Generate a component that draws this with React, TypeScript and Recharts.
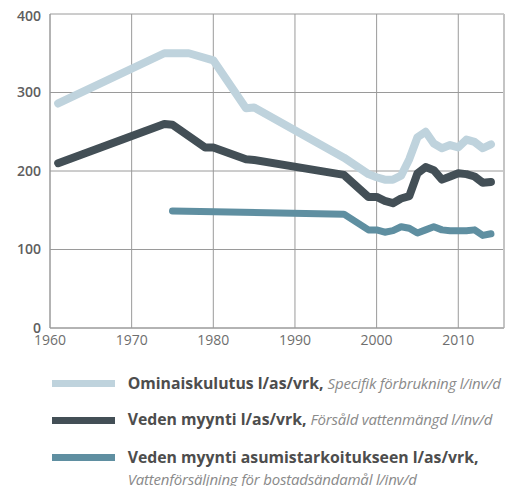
import React from "react";
import { LineChart, Line, XAxis, YAxis, CartesianGrid, ReferenceLine } from "recharts";

const xTicks = [1960, 1970, 1980, 1990, 2000, 2010];
const yTicks = [0, 100, 200, 300, 400];
const X_MIN = 1960;
const X_MAX = 2015.6;

const specificYears = [1961, 1974, 1977, 1980, 1984, 1985, 1996, 1999, 2000, 2001, 2002, 2003, 2004, 2005, 2006, 2007, 2008, 2009, 2010, 2011, 2012, 2013, 2014];
const specificValues = [286, 350, 350, 341, 280, 281, 217, 196, 192, 189, 189, 194, 215, 243, 250, 235, 229, 233, 230, 240, 237, 229, 234];

const soldYears = [1961, 1974, 1975, 1979, 1980, 1984, 1985, 1996, 1999, 2000, 2001, 2002, 2003, 2004, 2005, 2006, 2007, 2008, 2009, 2010, 2011, 2012, 2013, 2014];
const soldValues = [210, 260, 259, 230, 230, 215, 214, 195, 167, 167, 162, 159, 165, 168, 197, 205, 201, 189, 193, 197, 196, 193, 185, 186];

const housingYears = [1975, 1996, 1999, 2000, 2001, 2002, 2003, 2004, 2005, 2006, 2007, 2008, 2009, 2010, 2011, 2012, 2013, 2014];
const housingValues = [149, 145, 125, 125, 122, 124, 129, 127, 121, 125, 129, 125, 124, 124, 124, 125, 118, 120];

const COLORS = { specific: "#bfd3dd", sold: "#434f56", housing: "#5f8fa1" };

const toData = (years: number[], values: number[]) => years.map((year, i) => ({ year, v: values[i] }));
const specificData = toData(specificYears, specificValues);
const soldData = toData(soldYears, soldValues);
const housingData = toData(housingYears, housingValues);

const FONT = "'Open Sans', 'Noto Sans', sans-serif";

const legendItems = [
  { color: COLORS.specific, bold: "Ominaiskulutus l/as/vrk,", italic: "Specifik förbrukning l/inv/d", top: 372, wrap: false },
  { color: COLORS.sold, bold: "Veden myynti l/as/vrk,", italic: "Försåld vattenmängd l/inv/d", top: 408.5, wrap: false },
  { color: COLORS.housing, bold: "Veden myynti asumistarkoitukseen l/as/vrk,", italic: "Vattenförsäljning för bostadsändamål l/inv/d", top: 446, wrap: true },
];

export default function App() {
  return (
    <div style={{ position: "relative", width: 506, height: 478, fontFamily: FONT }}>
      <LineChart width={506} height={350} margin={{ top: 6, right: 10, bottom: 0, left: 0 }} style={{ overflow: "visible" }}>
        <CartesianGrid stroke="#9a9a9a" strokeWidth={1} />
        <XAxis
          dataKey="year"
          type="number"
          domain={[X_MIN, X_MAX]}
          ticks={xTicks}
          allowDuplicatedCategory={false}
          tickLine={false}
          tickSize={0}
          tickMargin={7}
          axisLine={{ stroke: "#9a9a9a" }}
          tick={{ fill: "#6e6e6e", fontSize: 14, fontFamily: FONT }}
          height={30}
        />
        <YAxis
          type="number"
          domain={[0, 400]}
          ticks={yTicks}
          width={42}
          tickLine={false}
          tickSize={0}
          tickMargin={9}
          axisLine={{ stroke: "#9a9a9a" }}
          tick={{ fill: "#5e5e5e", fontSize: 14, fontWeight: 600, fontFamily: FONT }}
        />
        <ReferenceLine x={X_MAX} stroke="#c4c4c4" strokeWidth={2} />
        <Line data={specificData} dataKey="v" type="linear" stroke={COLORS.specific} strokeWidth={8} strokeLinecap="round" strokeLinejoin="round" dot={false} isAnimationActive={false} />
        <Line data={soldData} dataKey="v" type="linear" stroke={COLORS.sold} strokeWidth={8} strokeLinecap="round" strokeLinejoin="round" dot={false} isAnimationActive={false} />
        <Line data={housingData} dataKey="v" type="linear" stroke={COLORS.housing} strokeWidth={7} strokeLinecap="round" strokeLinejoin="round" dot={false} isAnimationActive={false} />
      </LineChart>
      {legendItems.map((it) => (
        <div key={it.bold} style={{ position: "absolute", left: 43.7, top: it.top, width: 470 }}>
          <div style={{ position: "absolute", left: 0, top: 0, width: 63, height: 7, background: it.color }} />
          <div style={{ position: "absolute", left: 76, top: -8.5, fontSize: 15.8, lineHeight: "22px", whiteSpace: "nowrap" }}>
            <span style={{ fontWeight: 700, color: "#4d4d4d" }}>{it.bold}</span>
            {it.wrap ? <br /> : " "}
            <span style={{ fontStyle: "italic", color: "#8a8a8a", fontSize: 15, letterSpacing: -0.2 }}>{it.italic}</span>
          </div>
        </div>
      ))}
    </div>
  );
}
